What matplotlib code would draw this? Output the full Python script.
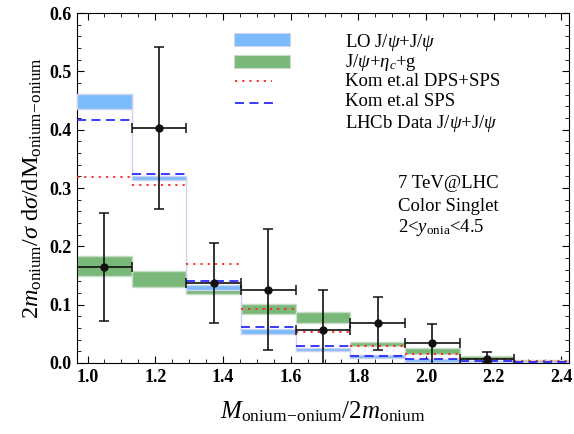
import numpy as np
import matplotlib
matplotlib.use('Agg')
import matplotlib.pyplot as plt
from matplotlib.patches import Rectangle
from matplotlib.ticker import MultipleLocator

plt.rcParams['font.family'] = ['Liberation Serif', 'DejaVu Serif']
plt.rcParams['mathtext.fontset'] = 'custom'
plt.rcParams['mathtext.rm'] = 'Liberation Serif'
plt.rcParams['mathtext.it'] = 'Liberation Serif:italic'
plt.rcParams['mathtext.bf'] = 'Liberation Serif:bold'

# bin edges: di-J/psi mass 6..15 GeV over 2 m_onium
two_m = 6.194
mass_edges = np.arange(6.0, 16.0, 1.0)
edges = mass_edges / two_m

# LO J/psi+J/psi band (low, high)
lo_low = [0.435, 0.313, 0.125, 0.050, 0.021, 0.009, 0.002, 0.001, 0.0005]
lo_high = [0.461, 0.320, 0.133, 0.059, 0.026, 0.013, 0.007, 0.004, 0.0015]
# J/psi+eta_c+g band (low, high)
eta_low = [0.150, 0.130, 0.118, 0.084, 0.069, 0.029, 0.016, 0.006, 0.002]
eta_high = [0.184, 0.158, 0.128, 0.102, 0.088, 0.036, 0.026, 0.012, 0.005]
# Kom et al. curves
kom_dps_sps = [0.319, 0.305, 0.169, 0.093, 0.053, 0.029, 0.016, 0.0075, 0.003]
kom_sps = [0.417, 0.324, 0.140, 0.062, 0.029, 0.0125, 0.006, 0.0035, 0.001]
# LHCb data (8 bins)
data_val = [0.164, 0.403, 0.137, 0.125, 0.057, 0.068, 0.034, 0.007]
data_up = [0.257, 0.542, 0.206, 0.230, 0.126, 0.114, 0.067, 0.018]
data_dn = [0.072, 0.264, 0.068, 0.022, -0.015, 0.022, -0.010, 0.002]

blue = '#7abcfb'
green = '#7ab87a'
edge_blue = '#d0d0f0'
edge_green = '#c8dcc8'

fig = plt.figure(figsize=(5.74, 4.34), dpi=100)
ax = fig.add_axes([0.134, 0.1636, 0.857, 0.8064])

nb = len(edges) - 1
for i in range(nb):
    x0, x1 = edges[i], edges[i + 1]
    ax.add_patch(Rectangle((x0, eta_low[i]), x1 - x0, eta_high[i] - eta_low[i],
                           facecolor=green, edgecolor=edge_green, lw=1.0, zorder=2))
for i in range(nb):
    x0, x1 = edges[i], edges[i + 1]
    ax.add_patch(Rectangle((x0, lo_low[i]), x1 - x0, lo_high[i] - lo_low[i],
                           facecolor=blue, edgecolor=edge_blue, lw=1.0, zorder=3))
    if i < nb - 1:
        ax.plot([x1, x1], [lo_low[i + 1], lo_high[i]], color=edge_blue, lw=1.0, zorder=2.5)

for i in range(nb):
    x0, x1 = edges[i], edges[i + 1]
    ax.plot([x0, x1], [kom_dps_sps[i]] * 2, color='#ff2020', lw=1.3,
            linestyle=(0, (1.2, 2.8)), zorder=4)
    ax.plot([x0, x1], [kom_sps[i]] * 2, color='#2a2aff', lw=1.3,
            linestyle=(0, (5, 3)), zorder=4)

centers = 0.5 * (edges[:-1] + edges[1:])[:len(data_val)]
halfw = 0.5 * np.diff(edges)[:len(data_val)]
yerr = [np.array(data_val) - np.array(data_dn), np.array(data_up) - np.array(data_val)]
ax.errorbar(centers, data_val, xerr=halfw, yerr=yerr, fmt='o', color='#111111',
            ms=5, elinewidth=1.2, capsize=3.5, capthick=1.1, zorder=6, clip_on=True)

ax.set_xlim(edges[0], edges[-1])
ax.set_ylim(0.0, 0.6)
ax.xaxis.set_major_locator(MultipleLocator(0.2))
ax.xaxis.set_minor_locator(MultipleLocator(0.05))
ax.yaxis.set_major_locator(MultipleLocator(0.1))
ax.yaxis.set_minor_locator(MultipleLocator(0.02))
ax.tick_params(which='both', direction='in', top=True, right=True)
ax.tick_params(which='major', length=5, width=0.8, labelsize=13, pad=4)
ax.tick_params(which='minor', length=3, width=0.6)
ax.set_xticks(np.arange(1.0, 2.41, 0.2))
ax.set_xticklabels(['%.1f' % v for v in np.arange(1.0, 2.41, 0.2)], fontweight='bold')
ax.set_yticks(np.arange(0.0, 0.61, 0.1))
ax.set_yticklabels(['%.1f' % v for v in np.arange(0.0, 0.61, 0.1)], fontweight='bold')

ax.set_xlabel(r'$M_{\rm onium\!-\!onium}/2m_{\rm onium}$', fontsize=18, labelpad=10)
ax.set_ylabel(r'$2m_{\rm onium}/\sigma\ {\rm d}\sigma/{\rm dM}_{\rm onium\!-\!onium}$',
              fontsize=17.5, labelpad=4)

# legend drawn by hand
tr = ax.transAxes
ax.add_patch(Rectangle((0.319, 0.906), 0.114, 0.037, transform=tr,
                       facecolor=blue, edgecolor=edge_blue, lw=0.8, zorder=7))
ax.add_patch(Rectangle((0.319, 0.843), 0.114, 0.037, transform=tr,
                       facecolor=green, edgecolor=edge_green, lw=0.8, zorder=7))
ax.plot([0.321, 0.396], [0.806, 0.806], transform=tr, color='#ff2020', lw=1.3,
        linestyle=(0, (1.2, 2.8)), zorder=7)
ax.plot([0.321, 0.409], [0.742, 0.742], transform=tr, color='#2a2aff', lw=1.3,
        linestyle=(0, (5, 3)), zorder=7)
leg_text = [r'LO J/$\psi$+J/$\psi$', r'J/$\psi$+$\eta_c$+g', 'Kom et.al DPS+SPS',
            'Kom et.al SPS', r'LHCb Data J/$\psi$+J/$\psi$']
leg_y = [0.917, 0.858, 0.804, 0.747, 0.685]
for t, y in zip(leg_text, leg_y):
    ax.text(0.545, y, t, transform=tr, fontsize=13.5, va='center', ha='left', zorder=8)

info = ['7 TeV@LHC', 'Color Singlet', r'2<$y_{\rm onia}$<4.5']
info_y = [0.513, 0.448, 0.386]
for t, y in zip(info, info_y):
    ax.text(0.652, y, t, transform=tr, fontsize=13.5, va='center', ha='left')

fig.savefig('out.png', dpi=100)
